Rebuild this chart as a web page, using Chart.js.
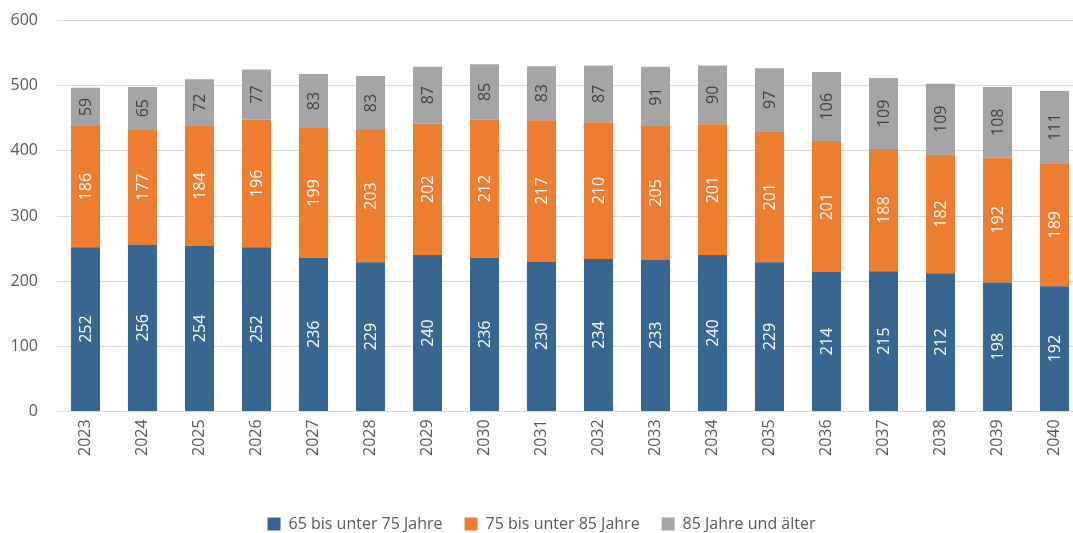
<!DOCTYPE html>
<html>
<head>
<meta charset="utf-8">
<script src="https://cdn.jsdelivr.net/npm/chart.js@4.4.0/dist/chart.umd.min.js"></script>
<style>
html, body { margin: 0; padding: 0; background: #fff; overflow: hidden; }
#wrap { width: 1083px; height: 552px; margin-top: -8px; position: relative; }
</style>
</head>
<body>
<div id="wrap"><canvas id="chart"></canvas></div>
<script>
// data
var years = ["2023","2024","2025","2026","2027","2028","2029","2030","2031","2032","2033","2034","2035","2036","2037","2038","2039","2040"];
var age65to75 = [252,256,254,252,236,229,240,236,230,234,233,240,229,214,215,212,198,192];
var age75to85 = [186,177,184,196,199,203,202,212,217,210,205,201,201,201,188,182,192,189];
var age85plus = [59,65,72,77,83,83,87,85,83,87,91,90,97,106,109,109,108,111];
var seriesNames = ["65 bis unter 75 Jahre","75 bis unter 85 Jahre","85 Jahre und älter"];
var yTicks = [0,100,200,300,400,500,600];

var colors = ["#376690","#ED7D31","#A5A5A5"];
var labelColors = ["#ffffff","#ffffff","#404040"];
var fontFamily = "'Open Sans', 'Noto Sans', sans-serif";

// draws the values rotated inside each segment
var barLabels = {
    id: "barLabels",
    afterDatasetsDraw: function(chart){
        var ctx = chart.ctx;
        chart.data.datasets.forEach(function(ds, i){
            var meta = chart.getDatasetMeta(i);
            meta.data.forEach(function(bar, j){
                var cy = (bar.y + bar.base) / 2;
                ctx.save();
                ctx.translate(bar.x, cy);
                ctx.rotate(-Math.PI / 2);
                ctx.font = "16px " + fontFamily;
                ctx.fillStyle = labelColors[i];
                ctx.textAlign = "center";
                ctx.textBaseline = "middle";
                ctx.fillText(String(ds.data[j]), 0, 1);
                ctx.restore();
            });
        });
    }
};

new Chart(document.getElementById("chart"), {
    type: "bar",
    data: {
        labels: years,
        datasets: [
            { label: seriesNames[0], data: age65to75, backgroundColor: colors[0] },
            { label: seriesNames[1], data: age75to85, backgroundColor: colors[1] },
            { label: seriesNames[2], data: age85plus, backgroundColor: colors[2] }
        ]
    },
    options: {
        responsive: true,
        maintainAspectRatio: false,
        animation: false,
        layout: { padding: { top: 4, left: 0, right: 0, bottom: 2 } },
        datasets: { bar: { barPercentage: 0.51, categoryPercentage: 1.0 } },
        plugins: {
            legend: {
                position: "bottom",
                labels: {
                    boxWidth: 13, boxHeight: 13, padding: 22,
                    color: "#595959",
                    font: { size: 16, family: fontFamily }
                }
            },
            tooltip: { enabled: false }
        },
        scales: {
            x: {
                stacked: true,
                afterFit: function(axis){ axis.height += 30; },
                grid: { display: false, drawTicks: false },
                border: { display: false },
                ticks: {
                    minRotation: 90, maxRotation: 90, padding: 8,
                    color: "#595959",
                    font: { size: 16, family: fontFamily }
                }
            },
            y: {
                stacked: true,
                min: 0, max: 600,
                afterFit: function(axis){ axis.width = 57; },
                afterBuildTicks: function(axis){ axis.ticks = yTicks.map(function(v){ return { value: v }; }); },
                grid: { color: "#d9d9d9", drawTicks: false },
                border: { display: false },
                ticks: {
                    padding: 19,
                    color: "#595959",
                    font: { size: 16, family: fontFamily }
                }
            }
        }
    },
    plugins: [barLabels]
});
</script>
</body>
</html>
